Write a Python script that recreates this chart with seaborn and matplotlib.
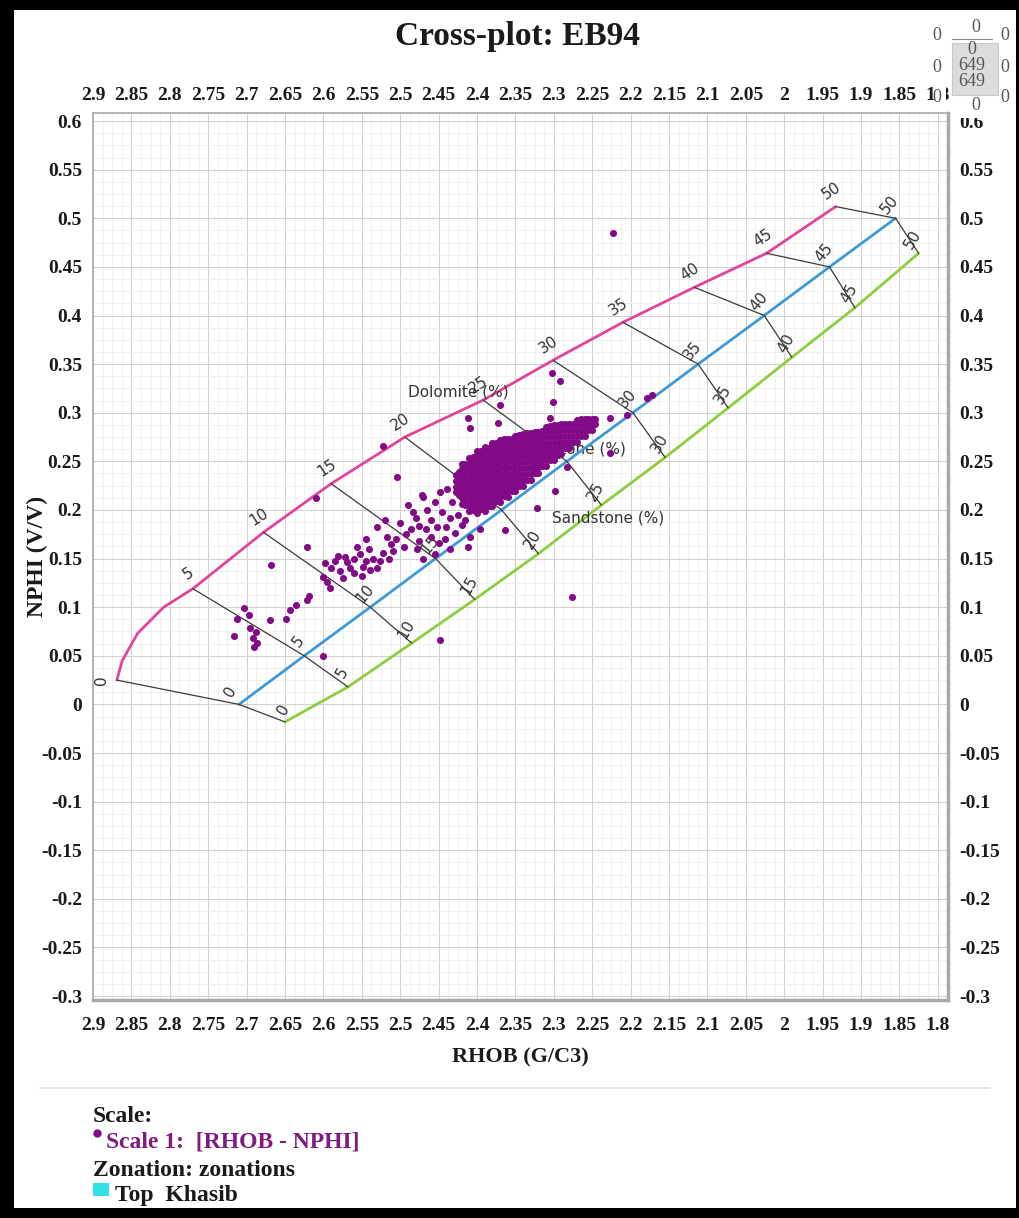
import matplotlib
matplotlib.use('Agg')
import numpy as np
import pandas as pd
import matplotlib.pyplot as plt
import seaborn as sns
from matplotlib.patches import Rectangle
from matplotlib.lines import Line2D
from matplotlib.ticker import MultipleLocator

# Porosity steps of the lithology lines (%)
porosity = [0, 5, 10, 15, 20, 25, 30, 35, 40, 45, 50]

# Dolomite line
dol_rhob = [2.869, 2.770, 2.678, 2.590, 2.494, 2.392, 2.301, 2.210, 2.117, 2.023, 1.933]
dol_nphi = [0.025, 0.119, 0.177, 0.227, 0.275, 0.313, 0.354, 0.393, 0.429, 0.464, 0.512]
# extra points on the curved start of the dolomite line (between 0 and 5)
dol_arc_rhob = [2.862, 2.842, 2.808]
dol_arc_nphi = [0.045, 0.073, 0.100]

# Limestone line
lime_rhob = [2.710, 2.625, 2.539, 2.454, 2.368, 2.283, 2.197, 2.112, 2.026, 1.941, 1.855]
lime_nphi = [0.0, 0.05, 0.10, 0.15, 0.20, 0.25, 0.30, 0.35, 0.40, 0.45, 0.50]

# Sandstone line
sand_rhob = [2.650, 2.568, 2.485, 2.403, 2.320, 2.238, 2.155, 2.073, 1.990, 1.908, 1.825]
sand_nphi = [-0.018, 0.018, 0.063, 0.108, 0.155, 0.205, 0.254, 0.305, 0.357, 0.408, 0.464]

# Data points, RHOB - NPHI
# dense core: rows of (RHOB, [NPHI values])
core_rows = [
    (2.428, [0.218, 0.224, 0.230, 0.236]),
    (2.424, [0.215, 0.221, 0.227, 0.233, 0.239]),
    (2.419, [0.206, 0.212, 0.218, 0.224, 0.230, 0.236, 0.242, 0.247]),
    (2.415, [0.205, 0.211, 0.217, 0.223, 0.229, 0.235, 0.241, 0.247]),
    (2.410, [0.199, 0.205, 0.211, 0.217, 0.223, 0.229, 0.235, 0.241, 0.247, 0.253]),
    (2.405, [0.200, 0.206, 0.212, 0.218, 0.224, 0.230, 0.236, 0.242, 0.248, 0.254]),
    (2.400, [0.197, 0.203, 0.209, 0.215, 0.221, 0.227, 0.233, 0.239, 0.245, 0.251, 0.257, 0.261]),
    (2.395, [0.201, 0.207, 0.213, 0.219, 0.225, 0.231, 0.237, 0.243, 0.249, 0.255, 0.261]),
    (2.390, [0.199, 0.205, 0.211, 0.217, 0.223, 0.229, 0.235, 0.241, 0.247, 0.253, 0.259, 0.265]),
    (2.385, [0.204, 0.210, 0.216, 0.222, 0.228, 0.234, 0.240, 0.246, 0.252, 0.258, 0.264]),
    (2.380, [0.204, 0.210, 0.216, 0.222, 0.228, 0.234, 0.240, 0.246, 0.252, 0.258, 0.264, 0.269]),
    (2.375, [0.209, 0.215, 0.221, 0.227, 0.233, 0.239, 0.245, 0.251, 0.257, 0.263, 0.269]),
    (2.370, [0.208, 0.214, 0.220, 0.226, 0.232, 0.238, 0.244, 0.250, 0.256, 0.262, 0.268, 0.272]),
    (2.365, [0.214, 0.220, 0.226, 0.232, 0.238, 0.244, 0.250, 0.256, 0.262, 0.268, 0.273]),
    (2.360, [0.213, 0.219, 0.225, 0.231, 0.237, 0.243, 0.249, 0.255, 0.261, 0.267, 0.273]),
    (2.355, [0.219, 0.225, 0.231, 0.237, 0.243, 0.249, 0.255, 0.261, 0.267, 0.273]),
    (2.350, [0.219, 0.225, 0.231, 0.237, 0.243, 0.249, 0.255, 0.261, 0.267, 0.273, 0.276]),
    (2.345, [0.225, 0.231, 0.237, 0.243, 0.249, 0.255, 0.261, 0.267, 0.273, 0.277]),
    (2.340, [0.225, 0.231, 0.237, 0.243, 0.249, 0.255, 0.261, 0.267, 0.273, 0.278]),
    (2.335, [0.231, 0.237, 0.243, 0.249, 0.255, 0.261, 0.267, 0.273, 0.279]),
    (2.330, [0.231, 0.237, 0.243, 0.249, 0.255, 0.261, 0.267, 0.273, 0.279]),
    (2.325, [0.238, 0.244, 0.250, 0.256, 0.262, 0.268, 0.274, 0.280]),
    (2.320, [0.238, 0.244, 0.250, 0.256, 0.262, 0.268, 0.274, 0.280]),
    (2.315, [0.245, 0.251, 0.257, 0.263, 0.269, 0.275, 0.281]),
    (2.310, [0.245, 0.251, 0.257, 0.263, 0.269, 0.275, 0.281, 0.285]),
    (2.305, [0.251, 0.257, 0.263, 0.269, 0.275, 0.281, 0.286]),
    (2.300, [0.251, 0.257, 0.263, 0.269, 0.275, 0.281, 0.287]),
    (2.295, [0.257, 0.263, 0.269, 0.275, 0.281, 0.287]),
    (2.290, [0.258, 0.264, 0.270, 0.276, 0.282, 0.288]),
    (2.285, [0.264, 0.270, 0.276, 0.282, 0.288]),
    (2.280, [0.264, 0.270, 0.276, 0.282, 0.288]),
    (2.275, [0.270, 0.276, 0.282, 0.288]),
    (2.270, [0.270, 0.276, 0.282, 0.288, 0.293]),
    (2.265, [0.276, 0.282, 0.288, 0.294]),
    (2.260, [0.276, 0.282, 0.288, 0.294]),
    (2.255, [0.282, 0.288, 0.294]),
    (2.250, [0.282, 0.288, 0.294]),
    (2.246, [0.288, 0.294]),
]

mid_points = [
    (2.504, 0.234), (2.471, 0.215), (2.455, 0.208), (2.448, 0.218), (2.439, 0.222),
    (2.432, 0.208), (2.435, 0.192), (2.409, 0.284), (2.412, 0.295), (2.373, 0.289),
    (2.370, 0.308), (2.364, 0.179), (2.322, 0.202), (2.299, 0.220), (2.283, 0.244),
    (2.301, 0.311), (2.303, 0.341), (2.292, 0.333), (2.305, 0.295), (2.227, 0.295),
    (2.205, 0.298), (2.179, 0.315), (2.172, 0.318), (2.227, 0.259), (2.483, 0.198),
    (2.500, 0.187), (2.486, 0.180), (2.476, 0.183), (2.470, 0.213), (2.460, 0.190),
    (2.460, 0.172), (2.452, 0.182), (2.445, 0.198), (2.442, 0.170), (2.429, 0.176),
    (2.435, 0.160), (2.409, 0.172), (2.412, 0.162), (2.495, 0.162), (2.490, 0.205),
    (2.478, 0.160), (2.475, 0.168), (2.470, 0.150), (2.465, 0.200), (2.455, 0.155),
    (2.396, 0.180), (2.420, 0.185), (2.425, 0.195), (2.415, 0.190), (2.480, 0.192),
    (2.493, 0.175), (2.450, 0.166), (2.466, 0.180), (2.440, 0.182), (2.520, 0.190),
]

low_points = [
    (2.717, 0.070), (2.713, 0.088), (2.704, 0.099), (2.697, 0.092), (2.695, 0.079),
    (2.692, 0.068), (2.691, 0.059), (2.686, 0.063), (2.688, 0.074), (2.669, 0.087),
    (2.649, 0.088), (2.643, 0.097), (2.636, 0.102), (2.621, 0.107), (2.619, 0.112),
    (2.601, 0.050), (2.668, 0.143), (2.622, 0.162), (2.600, 0.131), (2.595, 0.126),
    (2.591, 0.120), (2.581, 0.153), (2.569, 0.146), (2.556, 0.162), (2.548, 0.141),
    (2.539, 0.138), (2.530, 0.182), (2.526, 0.148), (2.517, 0.172), (2.509, 0.158),
    (2.590, 0.140), (2.585, 0.147), (2.578, 0.137), (2.572, 0.152), (2.565, 0.140),
    (2.560, 0.150), (2.552, 0.155), (2.545, 0.148), (2.540, 0.160), (2.535, 0.150),
    (2.530, 0.140), (2.522, 0.156), (2.515, 0.150), (2.512, 0.165), (2.505, 0.170),
    (2.560, 0.135), (2.575, 0.130), (2.550, 0.132), (2.544, 0.170), (2.598, 0.145),
]

outliers = [(2.223, 0.485), (2.276, 0.110), (2.448, 0.066), (2.610, 0.212), (2.523, 0.266)]

# Axis ticks
x_ticks = [2.9, 2.85, 2.8, 2.75, 2.7, 2.65, 2.6, 2.55, 2.5, 2.45, 2.4, 2.35, 2.3, 2.25,
           2.2, 2.15, 2.1, 2.05, 2.0, 1.95, 1.9, 1.85, 1.8]
x_labels = ['2.9', '2.85', '2.8', '2.75', '2.7', '2.65', '2.6', '2.55', '2.5', '2.45', '2.4',
            '2.35', '2.3', '2.25', '2.2', '2.15', '2.1', '2.05', '2', '1.95', '1.9', '1.85', '1.8']
y_ticks = [0.6, 0.55, 0.5, 0.45, 0.4, 0.35, 0.3, 0.25, 0.2, 0.15, 0.1, 0.05, 0.0,
           -0.05, -0.1, -0.15, -0.2, -0.25, -0.3]
y_labels = ['0.6', '0.55', '0.5', '0.45', '0.4', '0.35', '0.3', '0.25', '0.2', '0.15', '0.1',
            '0.05', '0', '-0.05', '-0.1', '-0.15', '-0.2', '-0.25', '-0.3']

# build the point table
rows = [(r, n) for r, ns in core_rows for n in ns] + mid_points + low_points + outliers
pts = pd.DataFrame(rows, columns=['RHOB', 'NPHI'])

sns.set_theme(style='white')
plt.rcParams['font.family'] = ['Liberation Serif', 'DejaVu Serif']

fig = plt.figure(figsize=(10.2, 12.18), dpi=100)
fig.patch.set_facecolor('white')
ax = fig.add_axes([0.0912, 0.179, 0.838, 0.728])

PINK = '#e0449c'
BLUE = '#3d9ad6'
GREEN = '#8ccf3c'
PURPLE = '#820a86'
INK = '#1a1a1a'

# grid
ax.xaxis.set_minor_locator(MultipleLocator(0.0125))
ax.yaxis.set_minor_locator(MultipleLocator(0.0125))
ax.grid(True, which='major', color='#d2d2d2', lw=0.8)
ax.grid(True, which='minor', color='#eeeeee', lw=0.6)
ax.set_axisbelow(True)

# lithology lines
dline_x = [dol_rhob[0]] + dol_arc_rhob + dol_rhob[1:]
dline_y = [dol_nphi[0]] + dol_arc_nphi + dol_nphi[1:]
sns.lineplot(x=dline_x, y=dline_y, sort=False, estimator=None, color=PINK, lw=2, ax=ax)
sns.lineplot(x=lime_rhob, y=lime_nphi, sort=False, estimator=None, color=BLUE, lw=2, ax=ax)
sns.lineplot(x=sand_rhob, y=sand_nphi, sort=False, estimator=None, color=GREEN, lw=2, ax=ax)

# iso-porosity connectors
for i in range(len(porosity)):
    ax.plot([dol_rhob[i], lime_rhob[i], sand_rhob[i]],
            [dol_nphi[i], lime_nphi[i], sand_nphi[i]], color='#3a3a3a', lw=0.9, zorder=2)

# porosity labels
lab_kw = dict(textcoords='offset points', ha='center', va='center', fontsize=11,
              color='#333333', family='DejaVu Sans')
for i, p in enumerate(porosity):
    if p == 0:
        ax.annotate('0', (dol_rhob[i], dol_nphi[i]), xytext=(-11, 0), rotation=90, **lab_kw)
        ax.annotate('0', (lime_rhob[i], lime_nphi[i]), xytext=(-6, 9), rotation=60, **lab_kw)
        ax.annotate('0', (sand_rhob[i], sand_nphi[i]), xytext=(-1, 9), rotation=60, **lab_kw)
        continue
    ax.annotate(str(p), (dol_rhob[i], dol_nphi[i]), xytext=(-3, 11), rotation=33, **lab_kw)
    ax.annotate(str(p), (lime_rhob[i], lime_nphi[i]), xytext=(-4, 10), rotation=50, **lab_kw)
    ax.annotate(str(p), (sand_rhob[i], sand_nphi[i]), xytext=(-4, 10), rotation=60, **lab_kw)

ax.text(2.425, 0.321, 'Dolomite (%)', ha='center', va='center', fontsize=11,
        color='#333333', family='DejaVu Sans', zorder=5)
ax.text(2.279, 0.263, 'Limestone (%)', ha='center', va='center', fontsize=11,
        color='#333333', family='DejaVu Sans', zorder=1)
ax.text(2.229, 0.192, 'Sandstone (%)', ha='center', va='center', fontsize=11,
        color='#333333', family='DejaVu Sans', zorder=5)

# data points
sns.scatterplot(data=pts, x='RHOB', y='NPHI', color=PURPLE, s=26, linewidth=0,
                ax=ax, zorder=3)

ax.set_xlim(2.9, 1.787)
ax.set_ylim(-0.304, 0.608)
ax.set_xticks(x_ticks)
ax.set_xticklabels(x_labels)
ax.set_yticks(y_ticks)
ax.set_yticklabels(y_labels)
ax.tick_params(which='both', length=0, labelsize=14, right=True, labelright=True,
               colors=INK)
ax.tick_params(axis='x', pad=12)
ax.tick_params(axis='y', pad=8)

# top copy of the RHOB scale
top = ax.secondary_xaxis('top')
top.set_xticks(x_ticks)
top.set_xticklabels(x_labels)
top.tick_params(length=0, labelsize=14, pad=7, colors=INK)
top.spines['top'].set_visible(False)

for lbl in ax.get_xticklabels() + ax.get_yticklabels() + top.get_xticklabels():
    lbl.set_fontweight('bold')
ax.set_xlabel('RHOB (G/C3)', fontsize=16, fontweight='bold', color=INK, labelpad=10)
ax.set_ylabel('NPHI (V/V)', fontsize=17, fontweight='bold', color=INK, labelpad=-5)
for s in ax.spines.values():
    s.set_color('#a8a8a8')
    s.set_linewidth(1.2)
ax.spines['right'].set_linewidth(2.5)
ax.spines['bottom'].set_linewidth(2.5)

# title
fig.text(0.507, 0.970, 'Cross-plot: EB94', ha='center', va='center', fontsize=24,
         fontweight='bold', color=INK)

# top-right counters panel (white, sits over the axis labels)
for (x0, y0, x1, y1) in [(934, 20, 946, 111), (952, 20, 1016, 118)]:
    fig.patches.append(Rectangle((x0 / 1020, 1 - y1 / 1218), (x1 - x0) / 1020,
                                 (y1 - y0) / 1218, transform=fig.transFigure,
                                 facecolor='white', edgecolor='none', zorder=10))
fig.patches.append(Rectangle((952 / 1020, 1 - 95 / 1218), 46 / 1020, 52 / 1218,
                             transform=fig.transFigure, facecolor='#dcdcdc',
                             edgecolor='#c8c8c8', lw=0.8, zorder=11))
fig.add_artist(Line2D([952 / 1020, 992 / 1020], [1 - 39 / 1218, 1 - 39 / 1218],
                      transform=fig.transFigure, color='#888888', lw=0.8, zorder=12))
cnt_kw = dict(ha='center', va='center', fontsize=13, color='#555555', zorder=12)
for (px, py, t) in [(937, 35, '0'), (976, 28, '0'), (1005, 35, '0'), (972, 50, '0'),
                    (937, 67, '0'), (972, 65, '649'), (1005, 67, '0'), (972, 81, '649'),
                    (937, 98, '0'), (976, 106, '0'), (1005, 98, '0')]:
    fig.text(px / 1020, 1 - py / 1218, t, **cnt_kw)

# legend block
fig.add_artist(Line2D([40 / 1020, 990 / 1020], [1 - 1088 / 1218, 1 - 1088 / 1218],
                      transform=fig.transFigure, color='#e4e4e4', lw=1.2))
fig.text(93 / 1020, 1 - 1116 / 1218, 'Scale:', ha='left', va='center', fontsize=17,
         fontweight='bold', color=INK)
fig.add_artist(Line2D([97 / 1020], [1 - 1133 / 1218], transform=fig.transFigure,
                      marker='o', ms=5, color=PURPLE, lw=0))
fig.text(106 / 1020, 1 - 1142 / 1218, 'Scale 1:  [RHOB - NPHI]', ha='left', va='center',
         fontsize=17, fontweight='bold', color='#7e1a80')
fig.text(93 / 1020, 1 - 1170 / 1218, 'Zonation: zonations', ha='left', va='center',
         fontsize=17, fontweight='bold', color=INK)
fig.patches.append(Rectangle((93 / 1020, 1 - 1196 / 1218), 16 / 1020, 13 / 1218,
                             transform=fig.transFigure, facecolor='#33e0e8', edgecolor='none'))
fig.text(115 / 1020, 1 - 1195 / 1218, 'Top  Khasib', ha='left', va='center', fontsize=17,
         fontweight='bold', color=INK)

# black frame (thick left/top/bottom, thin right)
for (x0, y0, w, h) in [(0, 0, 14, 1218), (0, 0, 1020, 10), (0, 1208, 1020, 10),
                       (1016, 0, 4, 1218)]:
    fig.patches.append(Rectangle((x0 / 1020, 1 - (y0 + h) / 1218), w / 1020, h / 1218,
                                 transform=fig.transFigure, facecolor='black',
                                 edgecolor='none', zorder=20))

fig.savefig('out.png', dpi=100)
